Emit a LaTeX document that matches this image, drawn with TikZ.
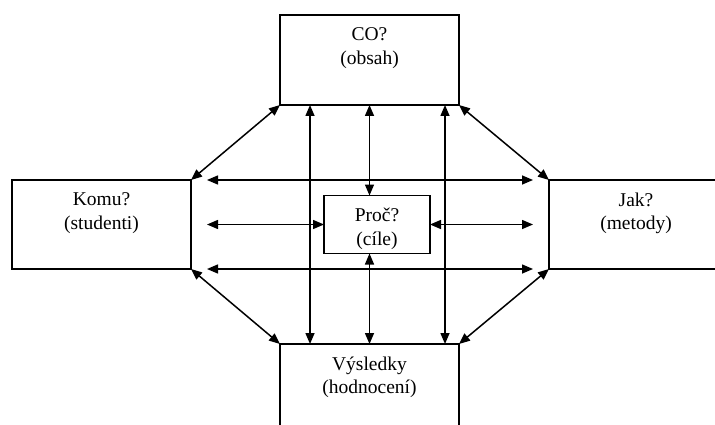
\documentclass[tikz,border=0pt]{standalone}
\usepackage{fontspec}
\setmainfont{Liberation Serif}
\usetikzlibrary{arrows.meta}

\begin{document}
\begin{tikzpicture}[x=1pt,y=-1pt,
	boxnode/.style={draw, line width=1.8pt, inner sep=0, outer sep=0},
	boxtext/.style={anchor=north, yshift=-12.5pt, inner sep=0, align=center, font=\fontsize{19.5pt}{23.5pt}\selectfont},
	twoway/.style={line width=1.5pt, {Triangle[length=11pt,width=9pt]}-{Triangle[length=11pt,width=9pt]}}]
	\useasboundingbox (0,0) rectangle (715,425);
	\clip (0,0) rectangle (715,425);
	\node[boxnode, minimum width=179pt, minimum height=90pt] (co) at (369.5,60) {};
	\node[boxtext] (co-t) at (co.north) {CO?\\(obsah)};
	\node[boxnode, minimum width=179pt, minimum height=89pt] (komu) at (101.5,224.5) {};
	\node[boxtext] (komu-t) at (komu.north) {Komu?\\(studenti)};
	\node[boxnode, minimum width=174pt, minimum height=89pt] (jak) at (636,224.5) {}; % right side runs off the page
	\node[boxtext] (jak-t) at (jak.north) {Jak?\\(metody)};
	\node[boxnode, minimum width=179pt, minimum height=90pt] (vysledky) at (369.5,389) {}; % bottom runs off the page
	\node[boxtext] (vysledky-t) at (vysledky.north) {Výsledky\\(hodnocení)};
	\node[boxnode, minimum width=106pt, minimum height=58pt] (proc) at (377,224.5) {};
	\node[boxtext] (proc-t) at (proc.north) {Proč?\\(cíle)};
	\draw[twoway] (co.south west) -- (komu.north east);
	\draw[twoway] (co.south east) -- (jak.north west);
	\draw[twoway] (komu.south east) -- (vysledky.north west);
	\draw[twoway] (jak.south west) -- (vysledky.north east);
	\draw[twoway, shorten <=16pt, shorten >=16pt] (komu.north east) -- (jak.north west);
	\draw[twoway, shorten <=16pt, shorten >=16pt] (komu.south east) -- (jak.south west);
	\draw[twoway, shorten <=16pt] (komu.east) -- (proc.west);
	\draw[twoway, shorten >=16pt] (proc.east) -- (jak.west);
	\draw[twoway] ([xshift=30pt]co.south west) -- ([xshift=30pt]vysledky.north west);
	\draw[twoway] ([xshift=-14pt]co.south east) -- ([xshift=-14pt]vysledky.north east);
	\draw[twoway] (co.south) -- (co.south |- proc.north);
	\draw[twoway] (proc.south -| vysledky.north) -- (vysledky.north);
\end{tikzpicture}
\end{document}
